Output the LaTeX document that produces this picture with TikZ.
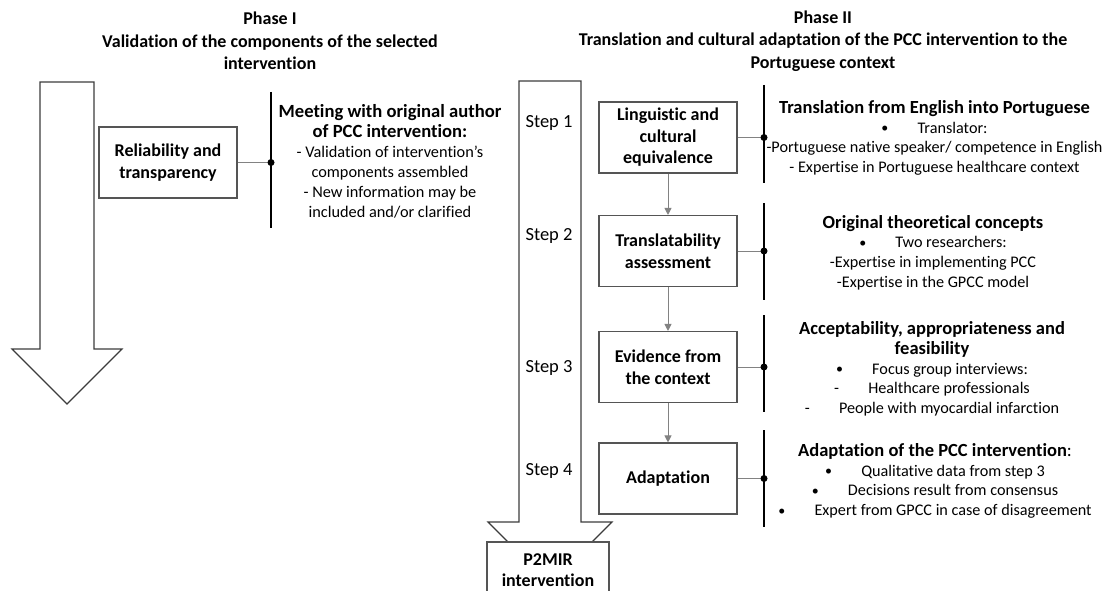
\documentclass[tikz,border=0pt]{standalone}
\usepackage{fontspec}
\setmainfont{Carlito}[Ligatures={NoCommon}]
\usetikzlibrary{arrows.meta}
\definecolor{boxgray}{RGB}{85,85,85}
\definecolor{linegray}{RGB}{130,130,130}
\definecolor{arrgray}{RGB}{60,60,60}
\newcommand{\bul}{\raisebox{0.5pt}{\fontsize{14}{14}\selectfont\textbullet}\hspace{1.8em}}
\begin{document}
\begin{tikzpicture}[x=1pt,y=-1pt,
  procbox/.style={draw=boxgray,line width=1.1pt,fill=white,minimum width=138pt,minimum height=71pt,align=center,inner sep=0pt,font=\fontsize{18}{21.5}\selectfont\bfseries},
  titletext/.style={align=center,font=\fontsize{18}{22.5}\selectfont\bfseries,inner sep=0pt},
  infotext/.style={align=center,font=\fontsize{16.2}{19.7}\selectfont,inner sep=0pt},
  linfotext/.style={align=center,font=\fontsize{16.3}{19.8}\selectfont,inner sep=0pt},
  steptext/.style={font=\fontsize{18.5}{20}\selectfont,inner sep=0pt},
  bigarrow/.style={draw=arrgray,line width=1.1pt,fill=white,line join=miter},
  bar/.style={draw=black,line width=2.6pt},
  link/.style={draw=linegray,line width=1pt},
  flow/.style={draw=linegray,line width=1pt,-{Triangle[width=7pt,length=7pt]}},
  dotmark/.style={circle,fill=black,inner sep=0pt,minimum size=7pt}
]
\clip (0,0) rectangle (1105,591);
\fill[white] (0,0) rectangle (1105,591);

% titles
\node[titletext] (t1) at (270,41) {Phase I\\Validation of the components of the selected\\intervention};
\node[titletext] (t2) at (823,41) {Phase II\\Translation and cultural adaptation of the PCC intervention to the\\Portuguese context};

% big arrows
\draw[bigarrow] (40,82) -- (94,82) -- (94,349) -- (122,349) -- (67,404) -- (12,349) -- (40,349) -- cycle;
\draw[bigarrow] (519,81) -- (581,81) -- (581,522) -- (612,522) -- (550,584) -- (488,522) -- (519,522) -- cycle;

% output box
\draw[draw=boxgray,line width=1.1pt,fill=white] (487,542) rectangle (609,605);
\node[align=center,font=\fontsize{18}{20.5}\selectfont\bfseries,inner sep=0pt] (out) at (548,570) {P2MIR\\intervention};

% Phase I
\node[procbox] (rel) at (168,162.5) {Reliability and\\transparency};
\coordinate (lbtop) at (271,92);
\coordinate (lbbot) at (271,228);
\coordinate (ldot) at (271,162.5);
\draw[bar] (lbtop) -- (lbbot);
\draw[link] (rel.east) -- (ldot);
\node[dotmark] at (ldot) {};
\node[linfotext] (linfo) at (390,161) {{\bfseries\fontsize{18.6}{24}\selectfont Meeting with original author}\\[1pt]
{\bfseries\fontsize{18.6}{24}\selectfont of PCC intervention:}\\
- Validation of intervention’s\\components assembled\\- New information may be\\included and/or clarified};

% steps
\node[steptext] (s1) at (549,123) {Step 1};
\node[steptext] (s2) at (549,236) {Step 2};
\node[steptext] (s3) at (549,368) {Step 3};
\node[steptext] (s4) at (549,471) {Step 4};

% process boxes
\node[procbox] (b1) at (668,137.5) {Linguistic and\\cultural\\equivalence};
\node[procbox] (b2) at (668,251) {Translatability\\assessment};
\node[procbox] (b3) at (668,367) {Evidence from\\the context};
\node[procbox] (b4) at (668,478.5) {Adaptation};

\draw[flow] (b1.south) -- (b2.north);
\draw[flow] (b2.south) -- (b3.north);
\draw[flow] (b3.south) -- (b4.north);

% bars and dots
\coordinate (r1top) at (764,85);  \coordinate (r1bot) at (764,183); \coordinate (d1) at (764,137.5);
\coordinate (r2top) at (764,203); \coordinate (r2bot) at (764,300); \coordinate (d2) at (764,251);
\coordinate (r3top) at (764,315); \coordinate (r3bot) at (764,412); \coordinate (d3) at (764,367);
\coordinate (r4top) at (764,430); \coordinate (r4bot) at (764,527); \coordinate (d4) at (764,478.5);
\draw[bar] (r1top) -- (r1bot);
\draw[bar] (r2top) -- (r2bot);
\draw[bar] (r3top) -- (r3bot);
\draw[bar] (r4top) -- (r4bot);
\draw[link] (b1.east) -- (d1);
\draw[link] (b2.east) -- (d2);
\draw[link] (b3.east) -- (d3);
\draw[link] (b4.east) -- (d4);
\node[dotmark] at (d1) {};
\node[dotmark] at (d2) {};
\node[dotmark] at (d3) {};
\node[dotmark] at (d4) {};

% info texts
\node[infotext] (i1) at (934.5,138) {{\bfseries\fontsize{18.5}{21}\selectfont Translation from English into Portuguese}\\
\bul Translator:\\
-Portuguese native speaker/ competence in English\\
- Expertise in Portuguese healthcare context};
\node[infotext] (i2) at (933,252.5) {{\bfseries\fontsize{18.5}{21}\selectfont Original theoretical concepts}\\
\bul Two researchers:\\
-Expertise in implementing PCC\\
-Expertise in the GPCC model};
\node[infotext] (i3) at (932,369) {{\bfseries\fontsize{18.5}{21}\selectfont Acceptability, appropriateness and}\\
{\bfseries\fontsize{18.5}{21}\selectfont feasibility}\\
\bul Focus group interviews:\\
-\hspace{1.8em}Healthcare professionals\\
-\hspace{1.8em}People with myocardial infarction};
\node[infotext] (i4) at (935,481) {{\bfseries\fontsize{18.5}{21}\selectfont Adaptation of the PCC intervention}{\fontsize{18.5}{21}\selectfont :}\\
\bul Qualitative data from step 3\\
\bul Decisions result from consensus\\
\bul Expert from GPCC in case of disagreement};
\end{tikzpicture}
\end{document}
